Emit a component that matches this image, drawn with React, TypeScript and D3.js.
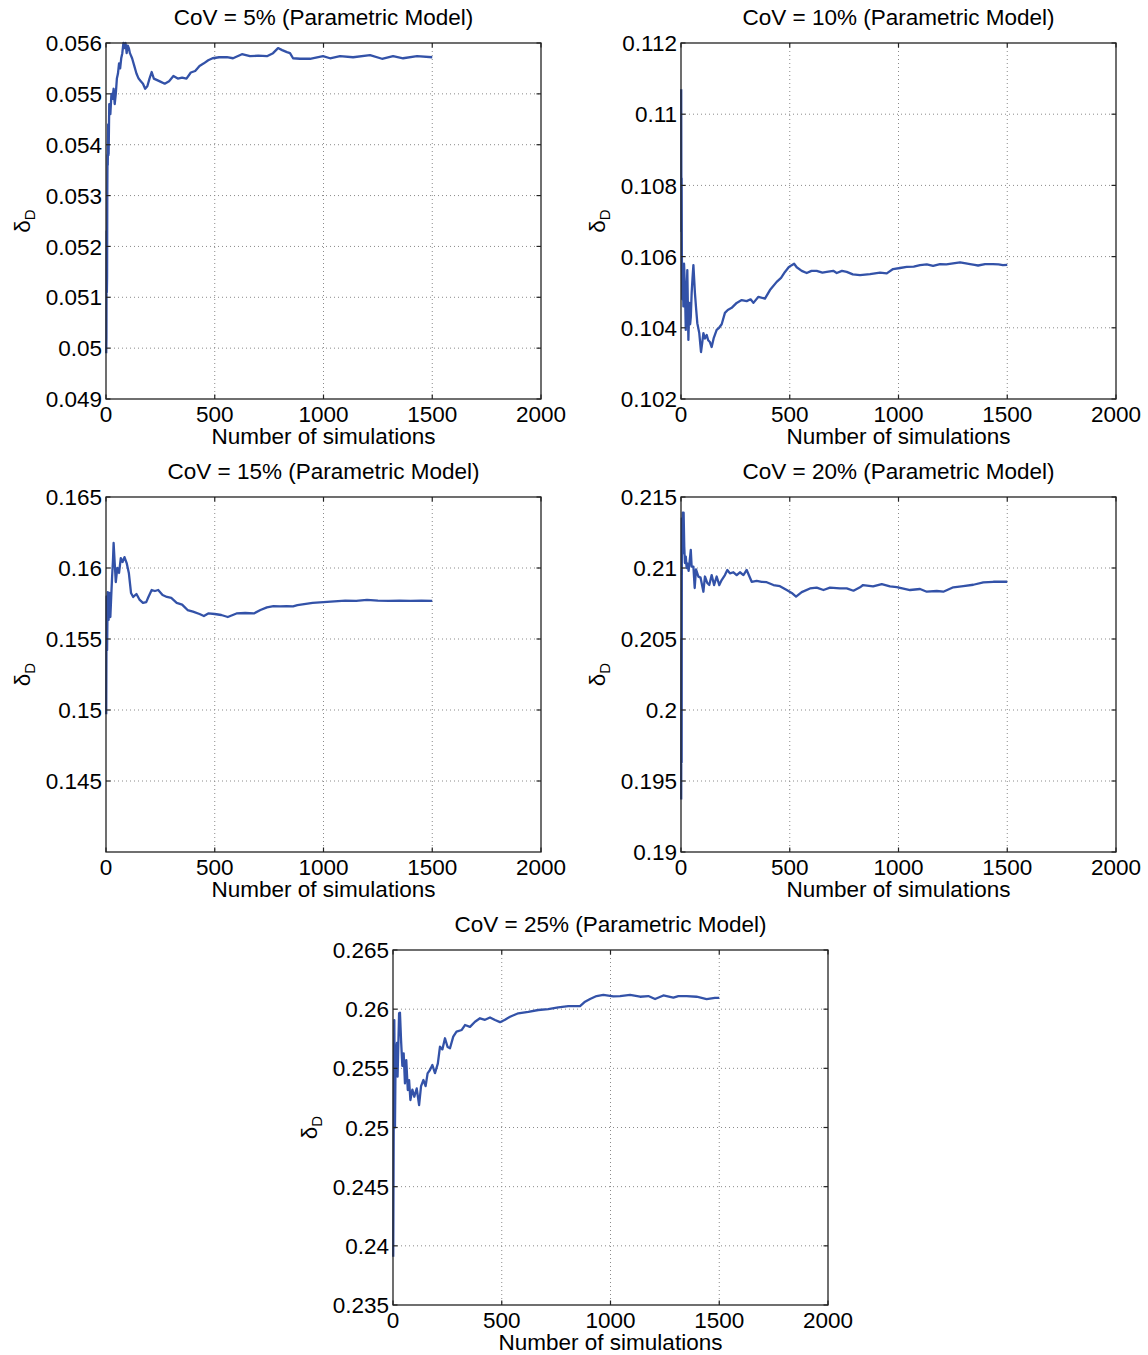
import React from 'react';
import * as d3 from 'd3';

// ---------------- DATA ----------------
const titles = [
  'CoV = 5% (Parametric Model)',
  'CoV = 10% (Parametric Model)',
  'CoV = 15% (Parametric Model)',
  'CoV = 20% (Parametric Model)',
  'CoV = 25% (Parametric Model)',
];

const xTicks = [0, 500, 1000, 1500, 2000];
const xDomain = [0, 2000];
const xLabel = 'Number of simulations';

const sims1 = [1, 2, 3, 4, 5, 6, 7, 8, 10, 12, 15, 20, 25, 30, 35, 40, 45, 50, 55, 60, 65, 70, 75, 80, 85, 90, 95, 100, 105, 110, 120, 130, 140, 150, 160, 170, 180, 190, 200, 210, 220, 230, 250, 270, 290, 310, 330, 350, 370, 390, 410, 430, 450, 470, 490, 520, 556, 584, 625, 662, 700, 740, 768, 791, 810, 832, 846, 860, 892, 938, 998, 1030, 1076, 1136, 1214, 1269, 1320, 1366, 1430, 1500];
const delta1 = [0.0499, 0.0502, 0.0523, 0.0511, 0.0514, 0.0531, 0.0538, 0.0536, 0.0544, 0.0538, 0.0548, 0.0546, 0.055, 0.0549, 0.0551, 0.0548, 0.055, 0.0553, 0.0554, 0.0556, 0.0555, 0.0557, 0.0558, 0.056, 0.0559, 0.056, 0.0558, 0.05595, 0.0559, 0.0558, 0.0557, 0.05555, 0.0554, 0.0553, 0.05525, 0.0552, 0.0551, 0.05515, 0.0553, 0.05543, 0.0553, 0.05528, 0.05524, 0.0552, 0.05525, 0.05535, 0.0553, 0.05532, 0.0553, 0.05542, 0.05545, 0.05555, 0.0556, 0.05566, 0.0557, 0.05572, 0.05572, 0.0557, 0.05578, 0.05574, 0.05575, 0.05574, 0.0558, 0.0559, 0.05586, 0.05582, 0.0558, 0.0557, 0.05569, 0.05569, 0.05574, 0.0557, 0.05574, 0.05572, 0.05576, 0.05569, 0.05574, 0.0557, 0.05574, 0.05572];
const yTicks1 = [0.049, 0.05, 0.051, 0.052, 0.053, 0.054, 0.055, 0.056];
const yDomain1 = [0.049, 0.056];

const sims2 = [1, 2, 3, 4, 6, 8, 11, 14, 18, 22, 26, 29, 34, 38, 42, 45, 49, 53, 57, 64, 70, 75, 84, 92, 98, 103, 110, 118, 125, 133, 141, 150, 164, 175, 187, 202, 215, 233, 256, 279, 302, 320, 333, 356, 386, 409, 440, 460, 478, 495, 509, 520, 532, 555, 578, 600, 624, 650, 670, 700, 716, 740, 762, 790, 823, 869, 915, 946, 975, 1007, 1038, 1070, 1099, 1130, 1159, 1191, 1220, 1251, 1283, 1310, 1329, 1350, 1366, 1398, 1434, 1460, 1480, 1500];
const delta2 = [0.1107, 0.1067, 0.1082, 0.106, 0.1048, 0.1058, 0.1046, 0.1058, 0.10515, 0.10394, 0.1049, 0.10562, 0.10366, 0.1047, 0.1041, 0.1043, 0.10498, 0.1054, 0.10576, 0.10498, 0.1045, 0.10413, 0.10385, 0.10332, 0.1036, 0.10385, 0.1037, 0.1038, 0.10365, 0.1036, 0.10346, 0.1037, 0.10394, 0.104, 0.1041, 0.10442, 0.1045, 0.10456, 0.1047, 0.10478, 0.10475, 0.1048, 0.1047, 0.10487, 0.10482, 0.10506, 0.10529, 0.1054, 0.10557, 0.1057, 0.10576, 0.1058, 0.1057, 0.1056, 0.10554, 0.1056, 0.1056, 0.10555, 0.10557, 0.1056, 0.10554, 0.1056, 0.10557, 0.1055, 0.10548, 0.10551, 0.10555, 0.10553, 0.10565, 0.10568, 0.10571, 0.10572, 0.10576, 0.10578, 0.10574, 0.10579, 0.10578, 0.10581, 0.10584, 0.10581, 0.10579, 0.10577, 0.10575, 0.10579, 0.10579, 0.10578, 0.10576, 0.10577];
const yTicks2 = [0.102, 0.104, 0.106, 0.108, 0.11, 0.112];
const yDomain2 = [0.102, 0.112];

const sims3 = [1, 3, 5, 8, 12, 16, 20, 24, 28, 32, 35, 40, 45, 52, 60, 68, 76, 85, 95, 105, 115, 125, 140, 155, 170, 185, 195, 210, 225, 240, 260, 280, 300, 325, 350, 375, 400, 430, 450, 470, 500, 530, 560, 600, 640, 680, 710, 740, 770, 800, 830, 860, 880, 950, 1000, 1050, 1100, 1150, 1200, 1250, 1300, 1350, 1400, 1450, 1500];
const delta3 = [0.1497, 0.158, 0.1542, 0.1583, 0.15634, 0.15824, 0.15655, 0.158, 0.15937, 0.1605, 0.16176, 0.16035, 0.15901, 0.16, 0.15965, 0.1607, 0.16042, 0.16077, 0.16035, 0.15965, 0.15824, 0.15796, 0.15817, 0.15775, 0.15754, 0.1576, 0.15796, 0.15845, 0.15838, 0.15845, 0.1581, 0.15796, 0.15789, 0.15754, 0.15742, 0.15704, 0.15693, 0.15676, 0.15662, 0.1568, 0.15676, 0.15669, 0.15655, 0.1568, 0.15683, 0.1568, 0.15704, 0.15723, 0.15732, 0.1573, 0.15732, 0.1573, 0.15739, 0.15755, 0.1576, 0.15765, 0.1577, 0.15768, 0.15775, 0.1577, 0.15768, 0.1577, 0.15768, 0.1577, 0.15768];
const yTicks3 = [0.145, 0.15, 0.155, 0.16, 0.165];
const yDomain3 = [0.14, 0.165];

const sims4 = [1, 2, 3, 4, 6, 8, 10, 12, 15, 18, 22, 26, 30, 35, 40, 45, 49, 57, 63, 69, 80, 90, 103, 110, 121, 130, 141, 152, 164, 176, 187, 202, 213, 225, 241, 256, 271, 287, 302, 325, 348, 371, 394, 425, 455, 486, 509, 529, 555, 593, 624, 655, 685, 731, 762, 793, 823, 837, 883, 923, 961, 992, 1053, 1099, 1130, 1176, 1206, 1252, 1298, 1344, 1390, 1436, 1500];
const delta4 = [0.1937, 0.205, 0.1963, 0.2135, 0.211, 0.2139, 0.212, 0.2139, 0.2115, 0.21035, 0.2108, 0.21, 0.2103, 0.2098, 0.2105, 0.21127, 0.2101, 0.2101, 0.20859, 0.2099, 0.20939, 0.20932, 0.20833, 0.2094, 0.20894, 0.2088, 0.2095, 0.2088, 0.2094, 0.2088, 0.20915, 0.2095, 0.20986, 0.20962, 0.2097, 0.2095, 0.2097, 0.2095, 0.20986, 0.20903, 0.2091, 0.20903, 0.209, 0.2088, 0.20872, 0.20845, 0.20824, 0.20798, 0.2083, 0.20856, 0.20862, 0.20845, 0.20862, 0.20856, 0.20856, 0.2084, 0.20864, 0.2088, 0.2087, 0.20887, 0.2087, 0.20865, 0.20845, 0.20852, 0.20833, 0.20838, 0.20833, 0.20864, 0.20873, 0.20882, 0.20899, 0.20903, 0.20903];
const yTicks4 = [0.19, 0.195, 0.2, 0.205, 0.21, 0.215];
const yDomain4 = [0.19, 0.215];

const sims5 = [1, 3, 6, 9, 12, 18, 21, 28, 32, 37, 43, 49, 55, 61, 68, 74, 80, 89, 98, 109, 120, 129, 140, 150, 159, 170, 181, 193, 206, 216, 227, 239, 251, 262, 277, 292, 316, 331, 354, 377, 400, 423, 446, 469, 492, 515, 538, 576, 622, 668, 714, 760, 806, 837, 860, 883, 906, 936, 967, 1013, 1044, 1090, 1136, 1174, 1205, 1243, 1289, 1312, 1350, 1396, 1442, 1480, 1500];
const delta5 = [0.23908, 0.24869, 0.25908, 0.25, 0.25598, 0.25714, 0.2543, 0.25965, 0.2597, 0.2574, 0.2552, 0.25627, 0.25373, 0.2557, 0.25317, 0.254, 0.25232, 0.2532, 0.2526, 0.2533, 0.2519, 0.2535, 0.25401, 0.2535, 0.25458, 0.25486, 0.25528, 0.2546, 0.2554, 0.25683, 0.2566, 0.25754, 0.2568, 0.2567, 0.25768, 0.2581, 0.25824, 0.25866, 0.2585, 0.25894, 0.25923, 0.2591, 0.2593, 0.25908, 0.2589, 0.2591, 0.25936, 0.25965, 0.25978, 0.25993, 0.26, 0.26016, 0.26025, 0.26025, 0.26025, 0.26063, 0.26086, 0.26111, 0.2612, 0.26108, 0.26111, 0.2612, 0.26105, 0.26111, 0.26086, 0.26116, 0.26098, 0.26111, 0.26111, 0.26105, 0.26085, 0.26095, 0.26095];
const yTicks5 = [0.235, 0.24, 0.245, 0.25, 0.255, 0.26, 0.265];
const yDomain5 = [0.235, 0.265];

const seriesSims = [sims1, sims2, sims3, sims4, sims5];
const seriesDelta = [delta1, delta2, delta3, delta4, delta5];
const seriesYTicks = [yTicks1, yTicks2, yTicks3, yTicks4, yTicks5];
const seriesYDomain = [yDomain1, yDomain2, yDomain3, yDomain4, yDomain5];

// ---------------- LAYOUT ----------------
const W = 1148;
const H = 1355;
const layout = [
  { left: 106, top: 43, w: 435, h: 356 },
  { left: 681, top: 43, w: 435, h: 356 },
  { left: 106, top: 497, w: 435, h: 355 },
  { left: 681, top: 497, w: 435, h: 355 },
  { left: 393, top: 950, w: 435, h: 355 },
];
const FONT = '"Liberation Sans", Arial, Helvetica, sans-serif';
const FS = 22.5;
const LINE_COLOR = '#3352a8';
const TICK_LEN = 4.5;

const fmtY = d3.format('.4~f');

function Panel({ idx }: { idx: number }) {
  const { left, top, w, h } = layout[idx];
  const sims = seriesSims[idx];
  const vals = seriesDelta[idx];
  const yTicks = seriesYTicks[idx];
  const yDom = seriesYDomain[idx];
  const x = d3.scaleLinear().domain(xDomain).range([left, left + w]);
  const y = d3.scaleLinear().domain(yDom).range([top + h, top]);
  const line = d3
    .line<number>()
    .x((_, i) => x(sims[i]))
    .y((d) => y(d));
  const bottom = top + h;
  const right = left + w;
  return (
    <g>
      {xTicks
        .filter((t) => t > xDomain[0] && t < xDomain[1])
        .map((t) => (
          <line key={'gx' + t} x1={x(t)} x2={x(t)} y1={top} y2={bottom} stroke="#8a8a8a" strokeWidth={1} strokeDasharray="1 3" />
        ))}
      {yTicks
        .filter((t) => y(t) > top + 0.5 && y(t) < bottom - 0.5)
        .map((t) => (
          <line key={'gy' + t} x1={left} x2={right} y1={y(t)} y2={y(t)} stroke="#8a8a8a" strokeWidth={1} strokeDasharray="1 3" />
        ))}
      <path d={line(vals) || ''} fill="none" stroke={LINE_COLOR} strokeWidth={2.3} strokeLinejoin="round" />
      <rect x={left} y={top} width={w} height={h} fill="none" stroke="#222" strokeWidth={1.3} />
      {xTicks.map((t) => (
        <g key={'tx' + t}>
          <line x1={x(t)} x2={x(t)} y1={bottom} y2={bottom - TICK_LEN} stroke="#222" strokeWidth={1.2} />
          <line x1={x(t)} x2={x(t)} y1={top} y2={top + TICK_LEN} stroke="#222" strokeWidth={1.2} />
          <text x={x(t)} y={bottom + 23} textAnchor="middle" fontFamily={FONT} fontSize={FS} fill="#000">
            {t}
          </text>
        </g>
      ))}
      {yTicks.map((t) => (
        <g key={'ty' + t}>
          <line x1={left} x2={left + TICK_LEN} y1={y(t)} y2={y(t)} stroke="#222" strokeWidth={1.2} />
          <line x1={right} x2={right - TICK_LEN} y1={y(t)} y2={y(t)} stroke="#222" strokeWidth={1.2} />
          <text x={left - 4} y={y(t)} dy="0.36em" textAnchor="end" fontFamily={FONT} fontSize={FS} fill="#000">
            {fmtY(t)}
          </text>
        </g>
      ))}
      <text x={(left + right) / 2} y={top - 18} textAnchor="middle" fontFamily={FONT} fontSize={FS} fill="#000">
        {titles[idx]}
      </text>
      <text x={(left + right) / 2} y={bottom + 45} textAnchor="middle" fontFamily={FONT} fontSize={FS} fill="#000">
        {xLabel}
      </text>
      <text
        transform={`translate(${left - 76},${(top + bottom) / 2}) rotate(-90)`}
        textAnchor="middle"
        fontFamily={FONT}
        fontSize={FS}
        fill="#000"
      >
        δ<tspan fontSize={15} dy={5}>D</tspan>
      </text>
    </g>
  );
}

export default function App() {
  return (
    <svg
      width={W}
      height={H}
      viewBox={`0 0 ${W} ${H}`}
      style={{ position: 'absolute', left: 0, top: 0, background: '#fff' }}
    >
      <rect x={0} y={0} width={W} height={H} fill="#fff" />
      {layout.map((_, i) => (
        <Panel key={i} idx={i} />
      ))}
    </svg>
  );
}
